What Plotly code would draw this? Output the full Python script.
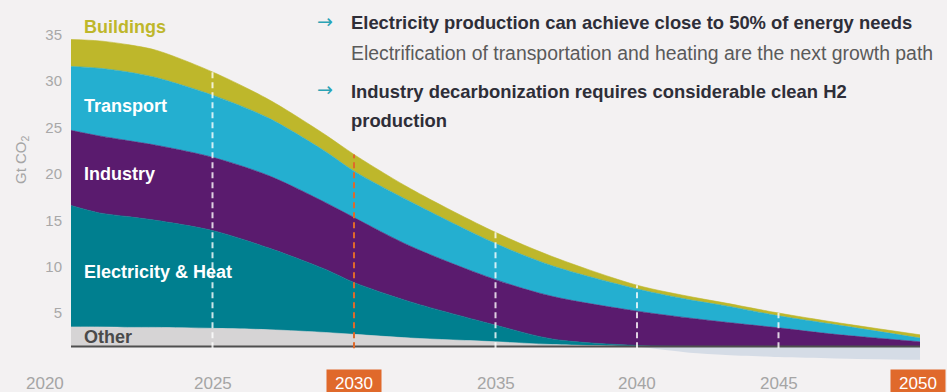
import numpy as np
import plotly.graph_objects as go

# Emission pathway, Gt CO2 per sector (band thickness), stacked on the axis floor
YEARS = [2020, 2021, 2022, 2023, 2025, 2027, 2029, 2030, 2032, 2035, 2037, 2040, 2042, 2043, 2045, 2047, 2050]
OTHER = [2.1, 2.1, 2.05, 2.05, 1.95, 1.8, 1.5, 1.3, 0.9, 0.5, 0.2, 0.0, -0.7, -0.9, -1.15, -1.3, -1.45]
ELECTRICITY_HEAT = [13.1, 12.3, 11.95, 11.55, 10.55, 8.8, 6.8, 5.6, 3.9, 1.8, 0.6, 0.1, 0, 0, 0, 0, 0]
INDUSTRY = [8.1, 8.3, 8.2, 8.1, 7.9, 7.8, 7.2, 7.0, 6.0, 4.9, 4.6, 3.7, 3.0, 2.65, 2.0, 1.3, 0.5]
TRANSPORT = [6.9, 7.3, 7.4, 7.3, 6.7, 6.2, 5.5, 5.0, 4.8, 3.9, 3.3, 2.4, 1.95, 1.8, 1.3, 1.05, 0.4]
BUILDINGS = [2.9, 2.95, 2.95, 2.95, 2.5, 2.0, 1.8, 1.8, 1.4, 1.2, 1.0, 0.4, 0.35, 0.3, 0.3, 0.25, 0.35]
AXIS_FLOOR = 1.4

Y_TICKS = [5, 10, 15, 20, 25, 30, 35]
X_TICKS = [2020, 2025, 2030, 2035, 2040, 2045, 2050]
HIGHLIGHT_YEARS = [2030, 2050]
MARKER_YEARS = [2025, 2030, 2035, 2040, 2045]

BG = "#f3f1f2"
FONT = "Liberation Sans, Arial, sans-serif"
COLORS = {
    "Other": "#d6d4d5",
    "Electricity & Heat": "#007f8f",
    "Industry": "#5a1b6e",
    "Transport": "#24afd0",
    "Buildings": "#beb72b",
}
NEG_COLOR = "#d5dce6"
ORANGE = "#e0692b"

# Figure geometry (pixels)
W, H = 947, 392
ML = 71
X_RANGE = [2020, 2050.954]
Y_RANGE = [-3.517, 38.76]


def px_x(x):
    return (x - ML) / (W - ML)


def px_y(y):
    return 1 - y / H


years = np.array(YEARS, dtype=float)
other = np.array(OTHER)
pos_layers = [
    ("Other", np.clip(other, 0, None)),
    ("Electricity & Heat", np.array(ELECTRICITY_HEAT)),
    ("Industry", np.array(INDUSTRY)),
    ("Transport", np.array(TRANSPORT)),
    ("Buildings", np.array(BUILDINGS)),
]

fig = go.Figure()
line_kw = dict(shape="spline", smoothing=0.85)

# Negative part of "Other" below the floor
neg_mask = years >= 2040
neg_x = years[neg_mask]
fig.add_trace(go.Scatter(x=neg_x, y=np.full(neg_x.size, AXIS_FLOOR), mode="lines",
                         line=dict(width=0), hoverinfo="skip"))
fig.add_trace(go.Scatter(x=neg_x, y=AXIS_FLOOR + np.clip(other[neg_mask], None, 0),
                         mode="lines", fill="tonexty", fillcolor=NEG_COLOR,
                         line=dict(width=0, **line_kw), hoverinfo="skip"))

# Positive stack
fig.add_trace(go.Scatter(x=years, y=np.full(years.size, AXIS_FLOOR), mode="lines",
                         line=dict(width=0), hoverinfo="skip"))
cum = np.full(years.size, AXIS_FLOOR)
for name, vals in pos_layers:
    cum = cum + vals
    fig.add_trace(go.Scatter(x=years, y=cum.copy(), mode="lines", name=name,
                             fill="tonexty", fillcolor=COLORS[name],
                             line=dict(width=0.6, color=COLORS[name], **line_kw),
                             hoverinfo="skip"))
total = cum

# Floor line
fig.add_trace(go.Scatter(x=[YEARS[0], YEARS[-1]], y=[AXIS_FLOOR, AXIS_FLOOR], mode="lines",
                         line=dict(color="#4f4f4f", width=2), hoverinfo="skip"))

# Dashed year markers from floor to the top of the stack
for yr in MARKER_YEARS:
    top = total[YEARS.index(yr)]
    col = ORANGE if yr in HIGHLIGHT_YEARS else "rgba(255,255,255,0.8)"
    fig.add_trace(go.Scatter(x=[yr, yr], y=[AXIS_FLOOR - 0.2, top], mode="lines",
                             line=dict(color=col, width=2, dash="6px,4px"),
                             hoverinfo="skip"))

annotations = []

# Year labels along the bottom
for yr in X_TICKS:
    hl = yr in HIGHLIGHT_YEARS
    annotations.append(dict(
        x=yr, y=px_y(383), xref="x", yref="paper", text=str(yr), showarrow=False,
        xanchor="center", yanchor="middle",
        xshift=-26 if yr == X_TICKS[0] else (-2 if yr == X_TICKS[-1] else 0),
        font=dict(family=FONT, size=17, color="#ffffff" if hl else "#a5a5a5"),
        bgcolor=ORANGE if hl else None, width=50 if hl else None,
        height=22 if hl else None, borderpad=2,
    ))

# Sector labels
sector_labels = [
    ("Buildings", 27, COLORS["Buildings"]),
    ("Transport", 106, "#ffffff"),
    ("Industry", 174, "#ffffff"),
    ("Electricity & Heat", 272, "#ffffff"),
    ("Other", 337, "#4a4a4a"),
]
for text, ypx, col in sector_labels:
    annotations.append(dict(
        x=px_x(82), y=px_y(ypx), xref="paper", yref="paper", text=f"<b>{text}</b>",
        showarrow=False, xanchor="left", yanchor="middle",
        font=dict(family=FONT, size=18, color=col),
    ))

# Axis unit
annotations.append(dict(
    x=px_x(21), y=px_y(160), xref="paper", yref="paper", text="Gt CO<sub>2</sub>",
    showarrow=False, textangle=-90, xanchor="center", yanchor="middle",
    font=dict(family=FONT, size=15, color="#a5a5a5"),
))

# Key messages
ARROW = "#2aa3b5"
ARROW_FONT = "DejaVu Sans, sans-serif"
for ypx in (21, 89):
    annotations.append(dict(
        x=px_x(315), y=px_y(ypx), xref="paper", yref="paper", text="→", showarrow=False,
        xanchor="left", yanchor="middle", font=dict(family=ARROW_FONT, size=19, color=ARROW),
    ))
messages = [
    ("Electricity production can achieve close to 50% of energy needs", 22, "#2e2e38", 18.4, True),
    ("Electrification of transportation and heating are the next growth path", 53, "#5a5a5a", 19.4, False),
    ("Industry decarbonization requires considerable clean H2", 91, "#2e2e38", 18.4, True),
    ("production", 120, "#2e2e38", 18.4, True),
]
for text, ypx, col, size, bold in messages:
    annotations.append(dict(
        x=px_x(349), y=px_y(ypx), xref="paper", yref="paper",
        text=f"<b>{text}</b>" if bold else text, showarrow=False,
        xanchor="left", yanchor="middle", font=dict(family=FONT, size=size, color=col),
    ))

fig.update_layout(
    width=W, height=H,
    margin=dict(l=ML, r=0, t=0, b=0),
    paper_bgcolor=BG, plot_bgcolor=BG,
    showlegend=False,
    xaxis=dict(range=X_RANGE, visible=False, fixedrange=True),
    yaxis=dict(range=Y_RANGE, tickvals=Y_TICKS, ticktext=[str(v) for v in Y_TICKS],
               showgrid=False, zeroline=False, showline=False, ticks="",
               ticklabelstandoff=8,
               tickfont=dict(family=FONT, size=15, color="#a8a8a8"), fixedrange=True),
    annotations=annotations,
)

fig.write_html("out.html", config={"displayModeBar": False})
